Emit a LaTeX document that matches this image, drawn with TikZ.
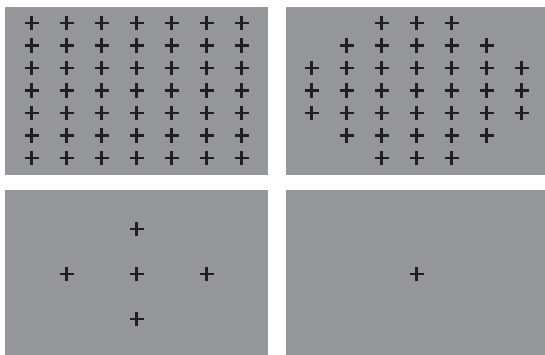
\documentclass[tikz,border=0pt]{standalone}
\definecolor{panelgray}{RGB}{148,150,153}
\definecolor{crossink}{RGB}{35,31,32}
\tikzset{
  panel/.style={fill=panelgray, draw=none},
  crossline/.style={draw=crossink, line width=2.6pt},
  pics/fixcross/.style={code={
    \draw[crossline] (-7.2,0) -- (7.2,0);
    \draw[crossline] (0,-7.2) -- (0,7.2);
  }}
}
\begin{document}
\begin{tikzpicture}[x=1pt,y=-1pt]
\useasboundingbox (0,0) rectangle (545,355);
% panels
\fill[panel] (5,7) rectangle (268,175);
\fill[panel] (286,7) rectangle (545,175);
\fill[panel] (5,190) rectangle (268,355);
\fill[panel] (286,190) rectangle (545,355);
% top-left: full 7x7 grid
\foreach \r in {0,...,6}{
  \foreach \c in {0,...,6}{
    \pic at ({31.7+35*\c},{23+22.5*\r}) {fixcross};
  }
}
% top-right: rounded grid
\foreach \r/\a/\b in {0/2/4, 1/1/5, 2/0/6, 3/0/6, 4/0/6, 5/1/5, 6/2/4}{
  \foreach \c in {\a,...,\b}{
    \pic at ({311.7+35*\c},{23+22.5*\r}) {fixcross};
  }
}
% bottom-left: five crosses
\pic at (136.7,229) {fixcross};
\pic at (66.7,274) {fixcross};
\pic at (136.7,274) {fixcross};
\pic at (206.7,274) {fixcross};
\pic at (136.7,319) {fixcross};
% bottom-right: single cross
\pic at (416.7,274) {fixcross};
\end{tikzpicture}
\end{document}
